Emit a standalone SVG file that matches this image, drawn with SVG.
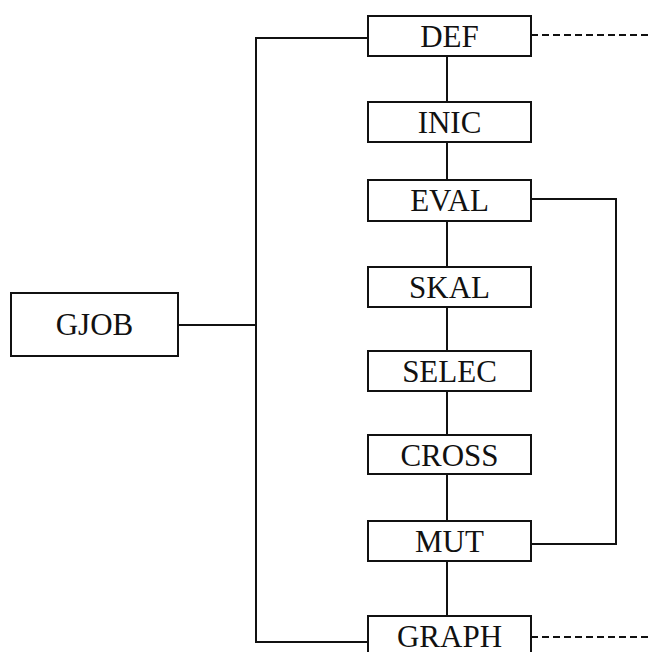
<svg xmlns="http://www.w3.org/2000/svg" width="648" height="652" viewBox="0 0 648 652">
<style>
.box{fill:#fff;stroke:#111;stroke-width:2}
.lbl{font-family:"Liberation Serif","Times New Roman",serif;font-size:31px;fill:#111;text-anchor:middle}
.ln{fill:none;stroke:#111;stroke-width:2}
.dash{fill:none;stroke:#111;stroke-width:2;stroke-dasharray:7 4}
</style>
<rect width="648" height="652" fill="#fff"/>
<g id="connectors">
<polyline class="ln" points="369,38 256,38 256,642 369,642"/>
<line class="ln" x1="178" y1="325" x2="256" y2="325"/>
<line class="ln" x1="447" y1="56" x2="447" y2="616"/>
<polyline class="ln" points="531,199 616,199 616,544 531,544"/>
<line class="dash" x1="531" y1="35" x2="648" y2="35"/>
<line class="dash" x1="531" y1="637" x2="648" y2="637"/>
</g>
<g id="GJOB"><rect class="box" x="11" y="293" width="167" height="63"/><text class="lbl" x="94.5" y="335">GJOB</text></g>
<g id="DEF"><rect class="box" x="368" y="16" width="163" height="40"/><text class="lbl" x="449.5" y="47">DEF</text></g>
<g id="INIC"><rect class="box" x="368" y="102" width="163" height="40"/><text class="lbl" x="449.5" y="133">INIC</text></g>
<g id="EVAL"><rect class="box" x="368" y="180" width="163" height="41"/><text class="lbl" x="449.5" y="211">EVAL</text></g>
<g id="SKAL"><rect class="box" x="368" y="267" width="163" height="40"/><text class="lbl" x="449.5" y="298">SKAL</text></g>
<g id="SELEC"><rect class="box" x="368" y="351" width="163" height="40"/><text class="lbl" x="449.5" y="382">SELEC</text></g>
<g id="CROSS"><rect class="box" x="368" y="435" width="163" height="39"/><text class="lbl" x="449.5" y="466">CROSS</text></g>
<g id="MUT"><rect class="box" x="368" y="521" width="163" height="40"/><text class="lbl" x="449.5" y="552">MUT</text></g>
<g id="GRAPH"><rect class="box" x="368" y="616" width="163" height="40"/><text class="lbl" x="449.5" y="647">GRAPH</text></g>
</svg>
